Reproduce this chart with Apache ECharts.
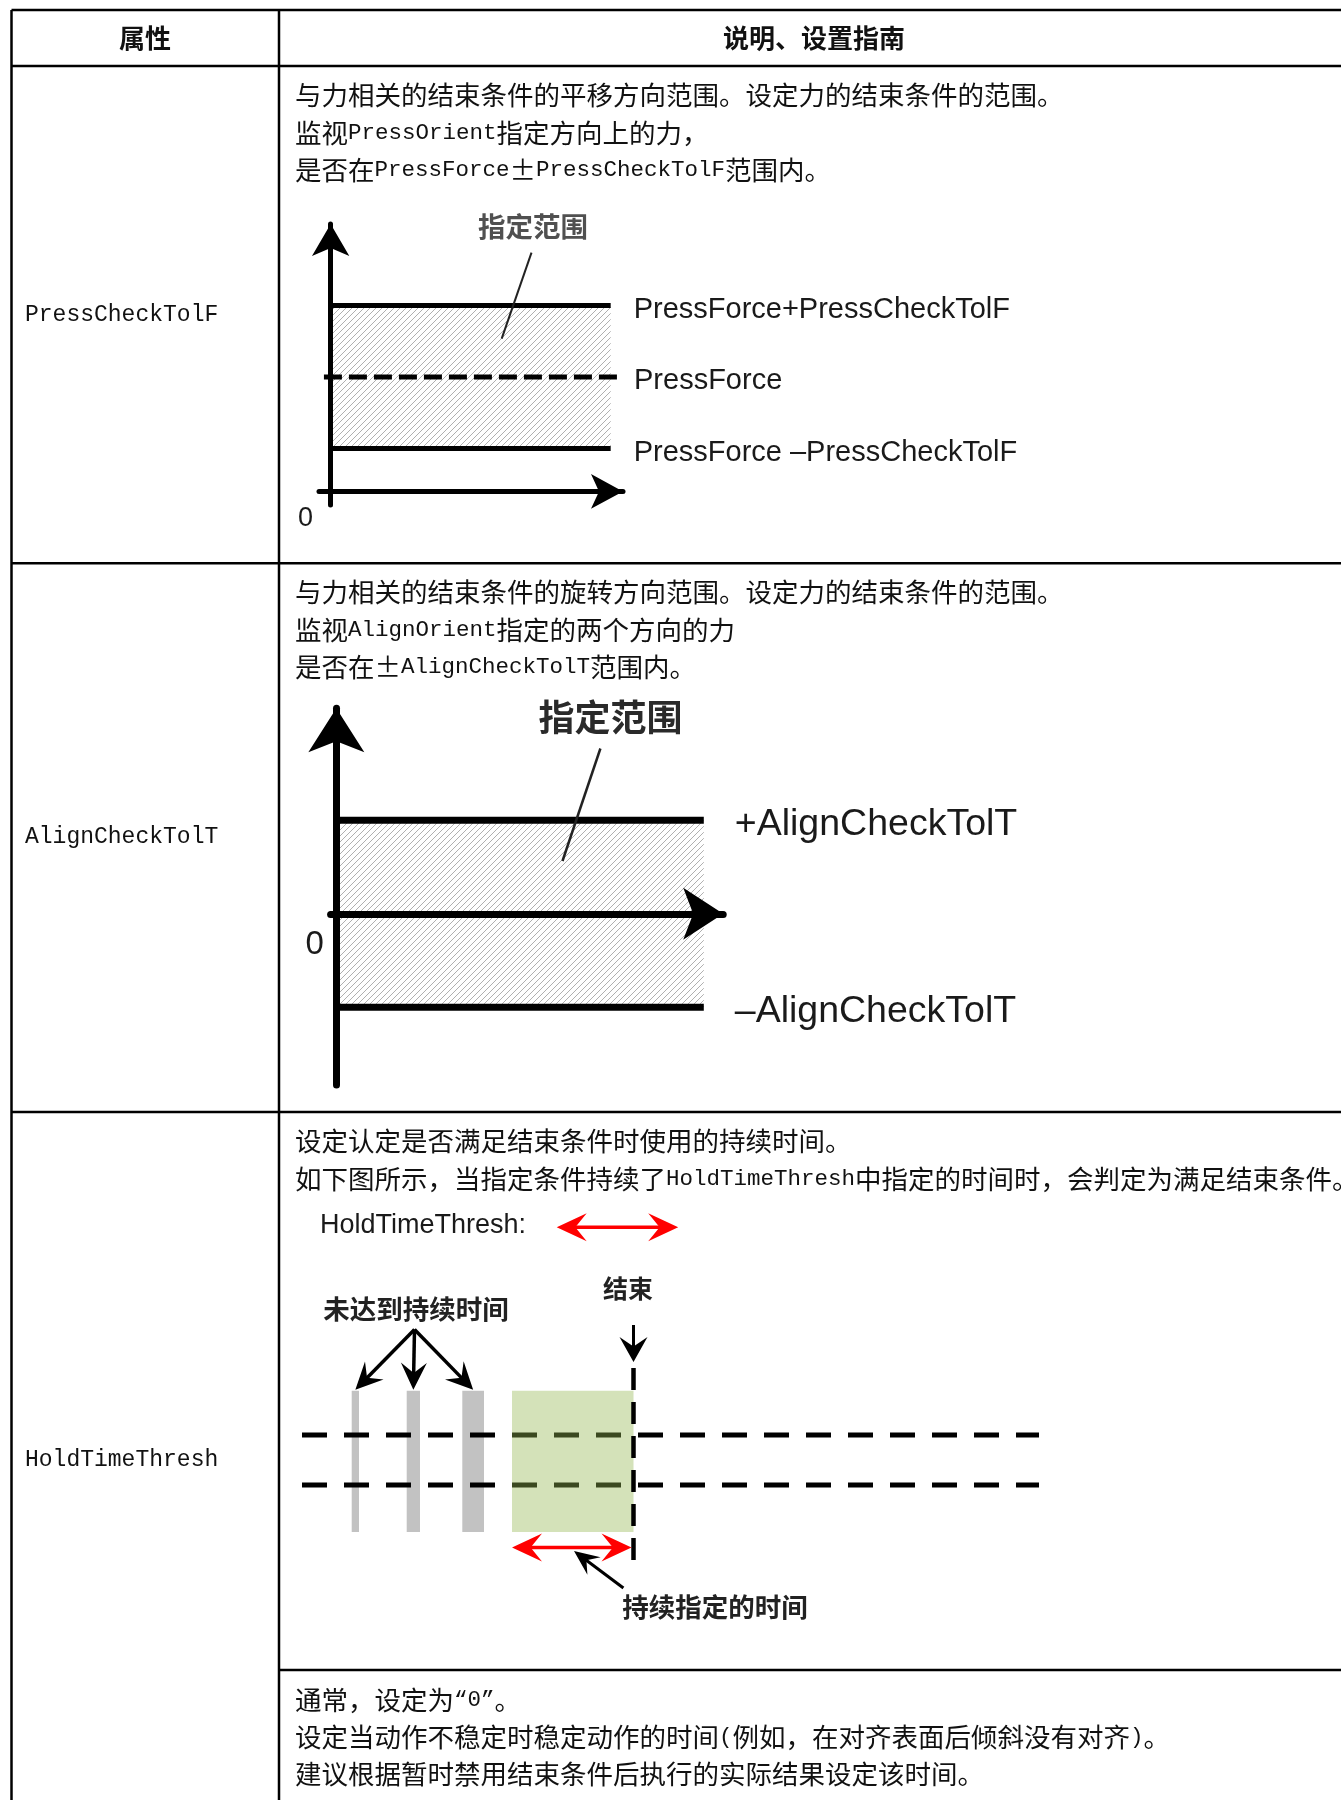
<!DOCTYPE html>
<html><head><meta charset="utf-8">
<script src="https://cdn.jsdelivr.net/npm/echarts@6/dist/echarts.min.js"></script>
<style>html,body{margin:0;padding:0;background:#fff}#c{width:1341px;height:1800px}</style>
</head><body><div id="c"></div>
<script>
// ---------------- data ----------------
const headers = ['属性', '说明、设置指南'];
const attributes = ['PressCheckTolF', 'AlignCheckTolT', 'HoldTimeThresh'];
const pressDesc = [
  '与力相关的结束条件的平移方向范围。设定力的结束条件的范围。',
  '监视PressOrient指定方向上的力，',
  '是否在PressForce±PressCheckTolF范围内。'
];
const alignDesc = [
  '与力相关的结束条件的旋转方向范围。设定力的结束条件的范围。',
  '监视AlignOrient指定的两个方向的力',
  '是否在±AlignCheckTolT范围内。'
];
const holdDesc = [
  '设定认定是否满足结束条件时使用的持续时间。',
  '如下图所示，当指定条件持续了HoldTimeThresh中指定的时间时，会判定为满足结束条件。'
];
const holdNote = [
  '通常，设定为“0”。',
  '设定当动作不稳定时稳定动作的时间(例如，在对齐表面后倾斜没有对齐)。',
  '建议根据暂时禁用结束条件后执行的实际结果设定该时间。'
];
// diagram 1 (PressCheckTolF)
const pressForce = 8;
const pressCheckTolF = 5;
const pressLabels = ['PressForce+PressCheckTolF', 'PressForce', 'PressForce \u2013PressCheckTolF'];
const rangeLabel = '指定范围';
// diagram 2 (AlignCheckTolT)
const alignCheckTolT = 1;
const alignLabels = ['+AlignCheckTolT', '\u2013AlignCheckTolT'];
// diagram 3 (HoldTimeThresh)
const shortPulses = [[4.97, 5.7], [10.47, 11.8], [16.03, 18.2]];
const pulseLow = -2.88, pulseHigh = 2.77;
const holdStart = 21.0;
const holdTimeThresh = 12.15;
const thresholdLevels = [1, -1];
const timeSpan = 73.7;
const holdTexts = ['HoldTimeThresh:', '结束', '未达到持续时间', '持续指定的时间'];

// ---------------- helpers ----------------
function hatchCanvas() {
  const s = 6, c = document.createElement('canvas');
  c.width = s; c.height = s;
  const g = c.getContext('2d');
  g.strokeStyle = '#b0b0b0'; g.lineWidth = 1;
  g.beginPath();
  [-s, 0, s].forEach(k => { g.moveTo(k, s); g.lineTo(k + s, 0); });
  g.stroke();
  return c;
}
const hatchFill = { image: hatchCanvas(), repeat: 'repeat' };

const CJK = 'Noto Sans CJK SC';
const LAT = 'Liberation Sans';
function mixed(str) { return str.replace(/[\x21-\x7E\u201C\u201D]+/g, m => '{m|' + m + '}'); }
function txt(x, y, text, o) {
  o = o || {};
  const style = {
    text: text, fill: o.fill || '#111',
    fontSize: o.size || 26.5, fontFamily: o.family || CJK, fontWeight: o.weight || 'normal',
    align: o.align || 'left', textAlign: o.align || 'left',
    verticalAlign: 'middle', textVerticalAlign: 'middle'
  };
  if (o.rich) style.rich = o.rich;
  return { type: 'text', x: x, y: y, z: 50, silent: true, style: style };
}
function bodyText(x, y, str) {
  return txt(x, y, mixed(str), { rich: { m: { fontFamily: 'Liberation Mono', fontSize: 22.5, fill: '#111' } } });
}
function hline(x1, x2, y, w) { return { type: 'line', z: 60, silent: true, shape: { x1: x1, y1: y, x2: x2, y2: y }, style: { stroke: '#000', lineWidth: w || 2.5 } }; }
function vline(x, y1, y2, w) { return { type: 'line', z: 60, silent: true, shape: { x1: x, y1: y1, x2: x, y2: y2 }, style: { stroke: '#000', lineWidth: w || 2.5 } }; }
function seg(x1, y1, x2, y2, color, w) { return { type: 'line', z: 55, silent: true, shape: { x1: x1, y1: y1, x2: x2, y2: y2 }, style: { stroke: color, lineWidth: w } }; }
function head(tx, ty, ang, L, W, color) {
  const c = Math.cos(ang), s = Math.sin(ang);
  const pts = [[0, 0], [-L, -W / 2], [-L * 0.62, 0], [-L, W / 2]].map(p => [tx + p[0] * c - p[1] * s, ty + p[0] * s + p[1] * c]);
  return { type: 'polygon', z: 56, silent: true, shape: { points: pts }, style: { fill: color } };
}
function arrow(x1, y1, x2, y2, color, w, L, W, both) {
  const ang = Math.atan2(y2 - y1, x2 - x1);
  const out = [];
  const c = Math.cos(ang), s = Math.sin(ang);
  const sx = both ? x1 + c * L * 0.6 : x1, sy = both ? y1 + s * L * 0.6 : y1;
  out.push(seg(sx, sy, x2 - c * L * 0.6, y2 - s * L * 0.6, color, w));
  out.push(head(x2, y2, ang, L, W, color));
  if (both) out.push(head(x1, y1, ang + Math.PI, L, W, color));
  return out;
}

// ---------------- chart ----------------
const chart = echarts.init(document.getElementById('c'), null, { renderer: 'canvas' });
function axisCommon(gi, min, max, w, size) {
  return {
    gridIndex: gi, type: 'value', min: min, max: max, z: 5,
    axisLine: { show: true, onZero: true, symbol: ['none', 'arrow'], symbolSize: size, lineStyle: { color: '#000', width: w } },
    axisTick: { show: false }, axisLabel: { show: false }, splitLine: { show: false }
  };
}
const lineBase = { type: 'line', symbol: 'none', silent: true, clip: false, animation: false };
const lblStyle = (size, dist, dy, text) => ({ show: true, formatter: () => text, distance: dist, offset: [0, dy], color: '#1a1a1a', fontFamily: LAT, fontSize: size });

const pfHi = pressForce + pressCheckTolF, pfLo = pressForce - pressCheckTolF;
const span1 = 25;

chart.setOption({
  animation: false,
  backgroundColor: '#fff',
  grid: [
    { left: 319, top: 224, width: 304, height: 281, outerBoundsMode: 'none' },
    { left: 330.6, top: 708.3, width: 392.6, height: 376.6, outerBoundsMode: 'none' },
    { left: 302, top: 1360, width: 737, height: 200, outerBoundsMode: 'none' }
  ],
  xAxis: [
    axisCommon(0, -1.04, 26.1, 5, [26, 32]),
    axisCommon(1, -0.39, 26.32, 7, [39, 40]),
    { gridIndex: 2, type: 'value', min: 0, max: timeSpan, show: false }
  ],
  yAxis: [
    axisCommon(0, -0.95, 18.7, 5, [28, 32]),
    axisCommon(1, -1.83, 2.198, 7, [42, 44]),
    { gridIndex: 2, type: 'value', min: -4, max: 4, show: false }
  ],
  series: [
    // diagram 1
    Object.assign({}, lineBase, { xAxisIndex: 0, yAxisIndex: 0, z: 1, data: [[0, pressForce]], lineStyle: { opacity: 0 },
      markArea: { silent: true, itemStyle: { color: hatchFill }, data: [[{ coord: [0, pfLo] }, { coord: [span1, pfHi] }]] } }),
    Object.assign({}, lineBase, { xAxisIndex: 0, yAxisIndex: 0, z: 3, data: [[0, pfHi], [span1, pfHi]], lineStyle: { color: '#000', width: 5 }, endLabel: lblStyle(29, 23, 4, pressLabels[0]) }),
    Object.assign({}, lineBase, { xAxisIndex: 0, yAxisIndex: 0, z: 3, data: [[-0.6, pressForce], [26.1, pressForce]], lineStyle: { color: '#000', width: 5, type: [18, 7] }, endLabel: lblStyle(29, 11, 4, pressLabels[1]) }),
    Object.assign({}, lineBase, { xAxisIndex: 0, yAxisIndex: 0, z: 3, data: [[0, pfLo], [span1, pfLo]], lineStyle: { color: '#000', width: 5 }, endLabel: lblStyle(29, 23, 4, pressLabels[2]) }),
    // diagram 2
    Object.assign({}, lineBase, { xAxisIndex: 1, yAxisIndex: 1, z: 1, data: [[0, 0]], lineStyle: { opacity: 0 },
      markArea: { silent: true, itemStyle: { color: hatchFill }, data: [[{ coord: [0, -alignCheckTolT] }, { coord: [span1, alignCheckTolT] }]] } }),
    Object.assign({}, lineBase, { xAxisIndex: 1, yAxisIndex: 1, z: 3, data: [[0, alignCheckTolT], [span1, alignCheckTolT]], lineStyle: { color: '#000', width: 7 }, endLabel: lblStyle(37.5, 31, 4, alignLabels[0]) }),
    Object.assign({}, lineBase, { xAxisIndex: 1, yAxisIndex: 1, z: 3, data: [[0, -alignCheckTolT], [span1, -alignCheckTolT]], lineStyle: { color: '#000', width: 7 }, endLabel: lblStyle(37.5, 31, 4, alignLabels[1]) }),
    // diagram 3
    {
      type: 'custom', xAxisIndex: 2, yAxisIndex: 2, z: 1, silent: true, animation: false,
      data: shortPulses, encode: { x: [0, 1] },
      renderItem: (params, api) => {
        const a = api.coord([api.value(0), pulseHigh]), b = api.coord([api.value(1), pulseLow]);
        return { type: 'rect', shape: { x: a[0], y: a[1], width: b[0] - a[0], height: b[1] - a[1] }, style: { fill: '#c2c2c2' } };
      }
    },
    ...thresholdLevels.map(v => Object.assign({}, lineBase, { xAxisIndex: 2, yAxisIndex: 2, z: 2, data: [[0, v], [timeSpan, v]], lineStyle: { color: '#000', width: 5, type: [25, 17] } })),
    {
      type: 'custom', xAxisIndex: 2, yAxisIndex: 2, z: 3, silent: true, animation: false,
      data: [[holdStart, holdStart + holdTimeThresh]], encode: { x: [0, 1] },
      renderItem: (params, api) => {
        const a = api.coord([api.value(0), pulseHigh]), b = api.coord([api.value(1), pulseLow]);
        return { type: 'rect', shape: { x: a[0], y: a[1], width: b[0] - a[0], height: b[1] - a[1] }, style: { fill: 'rgba(148,183,79,0.4)' } };
      }
    },
    Object.assign({}, lineBase, { xAxisIndex: 2, yAxisIndex: 2, z: 4, data: [[holdStart + holdTimeThresh, 0]],
      markLine: { silent: true, symbol: 'none', label: { show: false }, lineStyle: { color: '#000', width: 4.5, type: [22, 12] }, data: [{ xAxis: holdStart + holdTimeThresh }] } })
  ]
});

// ---------------- table + annotations ----------------
const cp = v => chart.convertToPixel({ gridIndex: 2 }, v);
const hs = cp([holdStart, 0])[0], he = cp([holdStart + holdTimeThresh, 0])[0];
const redY = cp([0, -3.5])[1];
const g = [];
// table rules
const L = 11.5, C = 279, R = 1341;
g.push(hline(L, R, 10), hline(L, R, 66), hline(L, R, 563.3), hline(L, R, 1112), hline(C, R, 1670));
g.push(vline(L, 10, 1800), vline(C, 10, 1800));
// header
g.push(txt(145, 38, headers[0], { align: 'center', weight: 'bold', size: 26 }));
g.push(txt(814, 38, headers[1], { align: 'center', weight: 'bold', size: 26 }));
// attribute names
[314.6, 837, 1460].forEach((y, i) => g.push(txt(25, y, attributes[i], { family: 'Liberation Mono', size: 23 })));
// descriptions
const TX = 295;
[95.3, 133.2, 170].forEach((y, i) => g.push(bodyText(TX, y, pressDesc[i])));
[592.4, 630.3, 667].forEach((y, i) => g.push(bodyText(TX, y, alignDesc[i])));
[1141, 1179].forEach((y, i) => g.push(bodyText(TX, y, holdDesc[i])));
[1700, 1737, 1774].forEach((y, i) => g.push(bodyText(TX, y, holdNote[i])));
// diagram 1 annotations
g.push(txt(533, 227, rangeLabel, { align: 'center', weight: 'bold', size: 27.5, fill: '#505050' }));
g.push(seg(531.5, 252.6, 501.7, 338.7, '#222', 2));
g.push(txt(305.4, 519, '0', { align: 'center', family: LAT, size: 27, fill: '#1a1a1a' }));
// diagram 2 annotations
g.push(txt(610.5, 717.5, rangeLabel, { align: 'center', weight: 'bold', size: 36, fill: '#2a2a2a' }));
g.push(seg(600.4, 748.5, 562.5, 861, '#222', 2.5));
g.push(txt(314.6, 945, '0', { align: 'center', family: LAT, size: 33, fill: '#1a1a1a' }));
// diagram 3 annotations
g.push(txt(320, 1226, holdTexts[0], { family: LAT, size: 27, fill: '#1a1a1a' }));
g.push(...arrow(556.7, 1227.3, 556.7 + (he - hs), 1227.3, '#ff0000', 3.5, 30, 28, true));
g.push(txt(628, 1288, holdTexts[1], { align: 'center', weight: 'bold', size: 25, fill: '#222' }));
g.push(...arrow(he, 1325, he, 1362, '#000', 3, 25, 28, false));
g.push(txt(416, 1309, holdTexts[2], { align: 'center', weight: 'bold', size: 26.5, fill: '#222' }));
shortPulses.forEach(p => {
  const t = cp([(p[0] + p[1]) / 2, pulseHigh]);
  g.push(...arrow(414.5, 1329.5, t[0], t[1] - 1, '#000', 3.5, 27, 26, false));
});
g.push(...arrow(hs, redY, he - 2, redY, '#ff0000', 3.5, 30, 28, true));
g.push(...arrow(623.4, 1588, 574, 1551, '#000', 3, 25, 22, false));
g.push(txt(715, 1607, holdTexts[3], { align: 'center', weight: 'bold', size: 26.5, fill: '#222' }));

chart.setOption({ graphic: { elements: g } });
</script>
</body></html>
